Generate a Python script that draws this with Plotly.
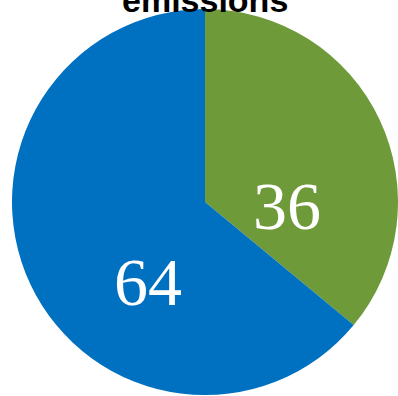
import plotly.graph_objects as go

labels = ["Share A", "Share B"]
values = [36, 64]
colors = ["#6f9a3a", "#0070c0"]
title_text = "emissions"

# label anchor points (paper fraction) for the value labels
label_pos = [(0.712, 0.490), (0.352, 0.294)]

fig = go.Figure(go.Pie(
    labels=labels,
    values=values,
    marker=dict(colors=colors, line=dict(width=0)),
    sort=False,
    direction="clockwise",
    rotation=0,
    textinfo="none",
    showlegend=False,
    hoverinfo="skip",
))

for v, (px, py) in zip(values, label_pos):
    fig.add_annotation(
        text=str(v), x=px, y=py, xref="paper", yref="paper",
        xanchor="center", yanchor="middle", showarrow=False,
        font=dict(family="Liberation Serif", size=68, color="white"),
    )

fig.add_annotation(
    text="<b>" + title_text + "</b>",
    x=0.5, y=1, xref="paper", yref="paper",
    xanchor="center", yanchor="bottom",
    yshift=-13,
    showarrow=False,
    font=dict(family="Liberation Sans", size=34, color="black"),
)

fig.update_layout(
    width=398, height=396,
    margin=dict(l=12, r=0, t=8, b=0),
    paper_bgcolor="white",
    plot_bgcolor="white",
)

fig.write_html("out.html")
